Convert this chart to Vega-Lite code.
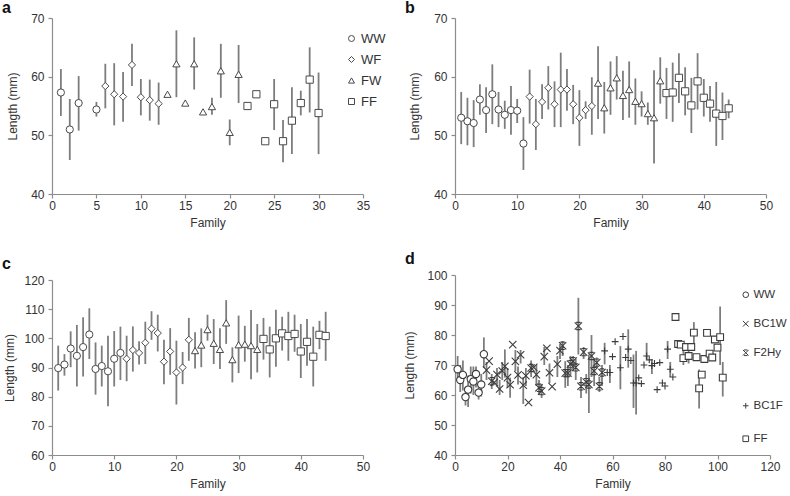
{
  "$schema": "https://vega.github.io/schema/vega-lite/v6.json",
  "padding": {"left": 2, "top": 0, "right": 0, "bottom": 2},
  "background": "white",
  "datasets": {
    "A": [
      {"f":1,"g":"WW","v":57.3,"lo":53.3,"hi":61.3},
      {"f":2,"g":"WW","v":51.0,"lo":45.8,"hi":56.2},
      {"f":3,"g":"WW","v":55.5,"lo":50.8,"hi":60.1},
      {"f":5,"g":"WW","v":54.4,"lo":53.2,"hi":55.7},
      {"f":6,"g":"WF","v":58.4,"lo":54.6,"hi":62.2},
      {"f":7,"g":"WF","v":57.0,"lo":51.7,"hi":62.3},
      {"f":8,"g":"WF","v":56.6,"lo":52.3,"hi":60.8},
      {"f":9,"g":"WF","v":62.0,"lo":58.4,"hi":65.6},
      {"f":10,"g":"WF","v":56.5,"lo":53.4,"hi":59.6},
      {"f":11,"g":"WF","v":56.0,"lo":52.5,"hi":59.5},
      {"f":12,"g":"WF","v":55.4,"lo":51.8,"hi":59.0},
      {"f":13,"g":"FW","v":57.0,"lo":57.0,"hi":57.0},
      {"f":14,"g":"FW","v":62.2,"lo":56.5,"hi":67.9},
      {"f":15,"g":"FW","v":55.5,"lo":55.5,"hi":55.5},
      {"f":16,"g":"FW","v":62.2,"lo":57.8,"hi":66.7},
      {"f":17,"g":"FW","v":54.0,"lo":54.0,"hi":54.0},
      {"f":18,"g":"FW","v":54.9,"lo":53.5,"hi":56.4},
      {"f":19,"g":"FW","v":61.0,"lo":56.4,"hi":65.6},
      {"f":20,"g":"FW","v":50.5,"lo":48.3,"hi":52.7},
      {"f":21,"g":"FW","v":60.4,"lo":55.5,"hi":65.4},
      {"f":22,"g":"FF","v":55.0,"lo":55.0,"hi":55.0},
      {"f":23,"g":"FF","v":57.0,"lo":57.0,"hi":57.0},
      {"f":24,"g":"FF","v":49.0,"lo":49.0,"hi":49.0},
      {"f":25,"g":"FF","v":55.3,"lo":50.9,"hi":59.6},
      {"f":26,"g":"FF","v":49.0,"lo":45.4,"hi":52.6},
      {"f":27,"g":"FF","v":52.5,"lo":46.8,"hi":58.2},
      {"f":28,"g":"FF","v":55.5,"lo":53.4,"hi":57.6},
      {"f":29,"g":"FF","v":59.5,"lo":53.9,"hi":65.0},
      {"f":30,"g":"FF","v":53.8,"lo":46.8,"hi":60.7}
    ],
    "B": [
      {"f":1,"g":"WW","v":53.0,"lo":48.5,"hi":57.4},
      {"f":2,"g":"WW","v":52.4,"lo":48.3,"hi":56.4},
      {"f":3,"g":"WW","v":52.1,"lo":48.0,"hi":56.0},
      {"f":4,"g":"WW","v":56.1,"lo":53.5,"hi":58.7},
      {"f":5,"g":"WW","v":54.3,"lo":50.4,"hi":58.2},
      {"f":6,"g":"WW","v":57.0,"lo":51.9,"hi":62.1},
      {"f":7,"g":"WW","v":54.4,"lo":51.4,"hi":57.4},
      {"f":8,"g":"WW","v":53.5,"lo":51.1,"hi":55.9},
      {"f":9,"g":"WW","v":54.3,"lo":50.1,"hi":58.4},
      {"f":10,"g":"WW","v":54.2,"lo":52.1,"hi":56.2},
      {"f":11,"g":"WW","v":48.6,"lo":44.1,"hi":53.1},
      {"f":12,"g":"WF","v":56.6,"lo":52.0,"hi":61.2},
      {"f":13,"g":"WF","v":51.9,"lo":47.5,"hi":56.2},
      {"f":14,"g":"WF","v":55.7,"lo":52.8,"hi":58.7},
      {"f":15,"g":"WF","v":58.1,"lo":54.4,"hi":61.8},
      {"f":16,"g":"WF","v":55.3,"lo":51.4,"hi":59.2},
      {"f":17,"g":"WF","v":57.8,"lo":51.4,"hi":64.1},
      {"f":18,"g":"WF","v":57.8,"lo":54.2,"hi":61.3},
      {"f":19,"g":"WF","v":55.3,"lo":51.9,"hi":58.6},
      {"f":20,"g":"WF","v":53.0,"lo":48.2,"hi":57.7},
      {"f":21,"g":"WF","v":54.3,"lo":52.8,"hi":55.8},
      {"f":22,"g":"WF","v":55.0,"lo":50.1,"hi":59.9},
      {"f":23,"g":"FW","v":58.9,"lo":52.8,"hi":65.2},
      {"f":24,"g":"FW","v":54.7,"lo":50.3,"hi":59.1},
      {"f":25,"g":"FW","v":58.1,"lo":53.5,"hi":62.6},
      {"f":26,"g":"FW","v":59.8,"lo":56.1,"hi":63.5},
      {"f":27,"g":"FW","v":56.8,"lo":52.6,"hi":61.0},
      {"f":28,"g":"FW","v":57.8,"lo":53.0,"hi":62.6},
      {"f":29,"g":"FW","v":55.8,"lo":51.8,"hi":59.7},
      {"f":30,"g":"FW","v":55.4,"lo":53.2,"hi":57.5},
      {"f":31,"g":"FW","v":53.7,"lo":51.8,"hi":55.6},
      {"f":32,"g":"FW","v":53.0,"lo":45.2,"hi":61.1},
      {"f":33,"g":"FW","v":59.3,"lo":55.4,"hi":63.3},
      {"f":34,"g":"FF","v":57.2,"lo":52.8,"hi":61.5},
      {"f":35,"g":"FF","v":57.3,"lo":52.3,"hi":62.4},
      {"f":36,"g":"FF","v":59.8,"lo":55.5,"hi":64.0},
      {"f":37,"g":"FF","v":57.5,"lo":53.4,"hi":61.6},
      {"f":38,"g":"FF","v":55.1,"lo":50.4,"hi":59.8},
      {"f":39,"g":"FF","v":59.2,"lo":54.4,"hi":64.0},
      {"f":40,"g":"FF","v":56.4,"lo":53.2,"hi":59.6},
      {"f":41,"g":"FF","v":55.4,"lo":52.3,"hi":58.4},
      {"f":42,"g":"FF","v":53.7,"lo":48.2,"hi":59.1},
      {"f":43,"g":"FF","v":53.3,"lo":49.2,"hi":57.3},
      {"f":44,"g":"FF","v":54.6,"lo":52.9,"hi":56.1}
    ],
    "C": [
      {"f":1,"g":"WW","v":89.8,"lo":82.1,"hi":97.5},
      {"f":2,"g":"WW","v":91.0,"lo":87.2,"hi":94.6},
      {"f":3,"g":"WW","v":96.5,"lo":90.1,"hi":102.4},
      {"f":4,"g":"WW","v":94.0,"lo":83.5,"hi":104.6},
      {"f":5,"g":"WW","v":97.0,"lo":86.9,"hi":107.2},
      {"f":6,"g":"WW","v":101.3,"lo":92.9,"hi":110.3},
      {"f":7,"g":"WW","v":89.5,"lo":80.7,"hi":98.6},
      {"f":8,"g":"WW","v":90.5,"lo":83.5,"hi":97.5},
      {"f":9,"g":"WW","v":88.7,"lo":76.7,"hi":100.9},
      {"f":10,"g":"WW","v":93.0,"lo":83.5,"hi":102.5},
      {"f":11,"g":"WW","v":95.0,"lo":85.7,"hi":104.0},
      {"f":12,"g":"WF","v":93.0,"lo":85.3,"hi":100.9},
      {"f":13,"g":"WF","v":96.0,"lo":88.6,"hi":104.1},
      {"f":14,"g":"WF","v":95.0,"lo":91.0,"hi":99.0},
      {"f":15,"g":"WF","v":98.5,"lo":91.2,"hi":105.7},
      {"f":16,"g":"WF","v":103.3,"lo":99.5,"hi":109.3},
      {"f":17,"g":"WF","v":101.8,"lo":95.5,"hi":108.1},
      {"f":18,"g":"WF","v":92.0,"lo":84.3,"hi":99.5},
      {"f":19,"g":"WF","v":95.5,"lo":87.5,"hi":103.5},
      {"f":20,"g":"WF","v":88.3,"lo":77.3,"hi":99.2},
      {"f":21,"g":"WF","v":90.0,"lo":84.3,"hi":95.3},
      {"f":22,"g":"WF","v":99.5,"lo":92.3,"hi":107.0},
      {"f":23,"g":"FW","v":95.8,"lo":89.7,"hi":102.1},
      {"f":24,"g":"FW","v":97.7,"lo":90.1,"hi":103.4},
      {"f":25,"g":"FW","v":103.0,"lo":99.2,"hi":108.1},
      {"f":26,"g":"FW","v":98.3,"lo":91.2,"hi":106.6},
      {"f":27,"g":"FW","v":96.2,"lo":89.5,"hi":103.5},
      {"f":28,"g":"FW","v":105.3,"lo":98.1,"hi":113.1},
      {"f":29,"g":"FW","v":92.7,"lo":84.9,"hi":96.9},
      {"f":30,"g":"FW","v":97.8,"lo":88.1,"hi":107.8},
      {"f":31,"g":"FW","v":98.0,"lo":92.0,"hi":104.3},
      {"f":32,"g":"FW","v":97.5,"lo":86.0,"hi":109.7},
      {"f":33,"g":"FW","v":96.2,"lo":88.3,"hi":104.9},
      {"f":34,"g":"FF","v":99.8,"lo":92.7,"hi":107.0},
      {"f":35,"g":"FF","v":96.2,"lo":86.6,"hi":104.0},
      {"f":36,"g":"FF","v":100.0,"lo":90.3,"hi":109.8},
      {"f":37,"g":"FF","v":101.7,"lo":95.8,"hi":107.4},
      {"f":38,"g":"FF","v":100.8,"lo":92.3,"hi":109.1},
      {"f":39,"g":"FF","v":101.5,"lo":95.4,"hi":108.1},
      {"f":40,"g":"FF","v":95.5,"lo":86.4,"hi":104.9},
      {"f":41,"g":"FF","v":98.8,"lo":90.6,"hi":106.6},
      {"f":42,"g":"FF","v":93.7,"lo":83.5,"hi":104.0},
      {"f":43,"g":"FF","v":101.2,"lo":96.3,"hi":106.0},
      {"f":44,"g":"FF","v":100.8,"lo":92.3,"hi":109.1}
    ],
    "D": [
      {"f":1,"g":"WW","v":68.6,"lo":64.5,"hi":73.0},
      {"f":2,"g":"WW","v":65.0,"lo":61.0,"hi":70.0},
      {"f":3,"g":"WW","v":66.7,"lo":61.5,"hi":71.5},
      {"f":4,"g":"WW","v":59.3,"lo":56.5,"hi":62.5},
      {"f":5,"g":"WW","v":61.8,"lo":56.0,"hi":66.5},
      {"f":6,"g":"WW","v":65.3,"lo":60.5,"hi":69.5},
      {"f":7,"g":"WW","v":64.5,"lo":60.0,"hi":69.5},
      {"f":8,"g":"WW","v":67.0,"lo":62.5,"hi":69.5},
      {"f":9,"g":"WW","v":60.8,"lo":58.5,"hi":64.0},
      {"f":10,"g":"WW","v":63.5,"lo":59.5,"hi":67.0},
      {"f":11,"g":"WW","v":73.6,"lo":69.0,"hi":79.2},
      {"f":12,"g":"BC1W","v":68.3,"lo":65.0,"hi":71.0},
      {"f":13,"g":"BC1W","v":71.3,"lo":71.3,"hi":71.3},
      {"f":14,"g":"F2Hy","v":64.6,"lo":62.0,"hi":67.0},
      {"f":15,"g":"BC1W","v":64.2,"lo":64.2,"hi":64.2},
      {"f":16,"g":"BC1W","v":66.8,"lo":63.5,"hi":69.0},
      {"f":17,"g":"BC1W","v":62.0,"lo":60.0,"hi":65.0},
      {"f":18,"g":"BC1W","v":68.0,"lo":65.0,"hi":71.0},
      {"f":19,"g":"BC1W","v":69.6,"lo":65.8,"hi":75.2},
      {"f":20,"g":"BC1W","v":65.8,"lo":62.5,"hi":69.0},
      {"f":21,"g":"BC1W","v":63.4,"lo":59.1,"hi":65.8},
      {"f":22,"g":"BC1W","v":76.8,"lo":76.8,"hi":76.8},
      {"f":23,"g":"BC1W","v":71.2,"lo":68.0,"hi":75.0},
      {"f":24,"g":"BC1W","v":66.7,"lo":63.5,"hi":69.5},
      {"f":25,"g":"BC1W","v":73.4,"lo":70.5,"hi":75.0},
      {"f":26,"g":"BC1W","v":63.3,"lo":57.0,"hi":66.0},
      {"f":27,"g":"BC1W","v":66.4,"lo":63.0,"hi":69.0},
      {"f":28,"g":"BC1W","v":57.5,"lo":57.5,"hi":57.5},
      {"f":29,"g":"F2Hy","v":69.0,"lo":66.0,"hi":71.5},
      {"f":30,"g":"BC1W","v":69.2,"lo":69.2,"hi":69.2},
      {"f":31,"g":"BC1W","v":66.8,"lo":63.0,"hi":70.0},
      {"f":32,"g":"F2Hy","v":62.4,"lo":60.0,"hi":65.0},
      {"f":33,"g":"F2Hy","v":61.3,"lo":59.0,"hi":63.5},
      {"f":34,"g":"BC1W","v":72.8,"lo":70.0,"hi":76.0},
      {"f":35,"g":"BC1W","v":75.6,"lo":75.6,"hi":75.6},
      {"f":36,"g":"BC1W","v":67.4,"lo":64.0,"hi":70.5},
      {"f":37,"g":"BC1W","v":62.8,"lo":62.8,"hi":62.8},
      {"f":39,"g":"BC1W","v":70.3,"lo":66.0,"hi":73.0},
      {"f":40,"g":"BC1W","v":74.8,"lo":72.0,"hi":77.0},
      {"f":41,"g":"F2Hy","v":76.4,"lo":73.0,"hi":78.0},
      {"f":42,"g":"F2Hy","v":67.3,"lo":62.4,"hi":71.3},
      {"f":43,"g":"F2Hy","v":67.3,"lo":63.0,"hi":70.0},
      {"f":44,"g":"F2Hy","v":70.3,"lo":66.5,"hi":73.0},
      {"f":45,"g":"F2Hy","v":71.3,"lo":68.0,"hi":73.0},
      {"f":46,"g":"F2Hy","v":69.2,"lo":65.0,"hi":72.0},
      {"f":47,"g":"F2Hy","v":83.0,"lo":73.5,"hi":92.4},
      {"f":48,"g":"F2Hy","v":62.9,"lo":59.0,"hi":66.0},
      {"f":49,"g":"F2Hy","v":74.3,"lo":72.0,"hi":76.0},
      {"f":50,"g":"F2Hy","v":64.3,"lo":60.5,"hi":67.0},
      {"f":51,"g":"F2Hy","v":63.5,"lo":54.0,"hi":73.5},
      {"f":52,"g":"F2Hy","v":73.0,"lo":66.0,"hi":80.0},
      {"f":53,"g":"F2Hy","v":68.0,"lo":63.0,"hi":72.0},
      {"f":54,"g":"F2Hy","v":70.8,"lo":69.0,"hi":72.5},
      {"f":55,"g":"F2Hy","v":62.9,"lo":61.0,"hi":66.0},
      {"f":56,"g":"F2Hy","v":67.5,"lo":63.0,"hi":70.0},
      {"f":57,"g":"BC1F","v":74.7,"lo":70.2,"hi":77.4},
      {"f":58,"g":"BC1F","v":67.5,"lo":67.5,"hi":67.5},
      {"f":59,"g":"BC1F","v":67.5,"lo":64.0,"hi":70.0},
      {"f":60,"g":"BC1F","v":72.8,"lo":72.8,"hi":72.8},
      {"f":61,"g":"BC1F","v":77.8,"lo":77.8,"hi":77.8},
      {"f":63,"g":"BC1F","v":69.1,"lo":61.9,"hi":76.3},
      {"f":64,"g":"BC1F","v":79.5,"lo":79.5,"hi":79.5},
      {"f":65,"g":"BC1F","v":72.5,"lo":72.5,"hi":72.5},
      {"f":66,"g":"BC1F","v":75.3,"lo":69.1,"hi":81.9},
      {"f":67,"g":"BC1F","v":71.5,"lo":71.5,"hi":71.5},
      {"f":68,"g":"BC1F","v":64.0,"lo":55.7,"hi":73.5},
      {"f":69,"g":"BC1F","v":64.0,"lo":53.5,"hi":74.7},
      {"f":70,"g":"BC1F","v":65.7,"lo":65.7,"hi":65.7},
      {"f":71,"g":"BC1F","v":63.8,"lo":63.8,"hi":63.8},
      {"f":72,"g":"BC1F","v":70.0,"lo":70.0,"hi":70.0},
      {"f":73,"g":"BC1F","v":73.0,"lo":71.9,"hi":77.4},
      {"f":74,"g":"BC1F","v":71.7,"lo":71.7,"hi":71.7},
      {"f":75,"g":"BC1F","v":69.8,"lo":67.0,"hi":72.0},
      {"f":76,"g":"BC1F","v":70.5,"lo":70.5,"hi":70.5},
      {"f":77,"g":"BC1F","v":61.8,"lo":61.8,"hi":61.8},
      {"f":78,"g":"BC1F","v":70.8,"lo":70.8,"hi":70.8},
      {"f":79,"g":"BC1F","v":64.0,"lo":64.0,"hi":64.0},
      {"f":80,"g":"BC1F","v":63.0,"lo":63.0,"hi":63.0},
      {"f":81,"g":"BC1F","v":75.3,"lo":72.0,"hi":78.0},
      {"f":82,"g":"BC1F","v":68.6,"lo":66.0,"hi":71.0},
      {"f":83,"g":"BC1F","v":66.0,"lo":66.0,"hi":66.0},
      {"f":84,"g":"FF","v":86.0,"lo":86.0,"hi":86.0},
      {"f":85,"g":"FF","v":77.0,"lo":77.0,"hi":77.0},
      {"f":86,"g":"FF","v":76.8,"lo":76.8,"hi":76.8},
      {"f":87,"g":"FF","v":72.3,"lo":70.0,"hi":75.0},
      {"f":88,"g":"FF","v":76.0,"lo":76.0,"hi":76.0},
      {"f":89,"g":"FF","v":73.0,"lo":70.5,"hi":75.5},
      {"f":90,"g":"FF","v":76.0,"lo":76.0,"hi":76.0},
      {"f":91,"g":"FF","v":80.8,"lo":77.0,"hi":84.3},
      {"f":92,"g":"FF","v":72.6,"lo":72.6,"hi":72.6},
      {"f":93,"g":"FF","v":62.2,"lo":55.5,"hi":68.5},
      {"f":94,"g":"FF","v":66.8,"lo":66.8,"hi":66.8},
      {"f":95,"g":"FF","v":72.0,"lo":72.0,"hi":72.0},
      {"f":96,"g":"FF","v":80.7,"lo":80.7,"hi":80.7},
      {"f":97,"g":"FF","v":73.8,"lo":73.8,"hi":73.8},
      {"f":98,"g":"FF","v":72.5,"lo":72.5,"hi":72.5},
      {"f":99,"g":"FF","v":78.5,"lo":78.5,"hi":78.5},
      {"f":100,"g":"FF","v":75.8,"lo":75.8,"hi":75.8},
      {"f":101,"g":"FF","v":79.3,"lo":70.0,"hi":89.5},
      {"f":102,"g":"FF","v":65.8,"lo":59.5,"hi":71.0}
    ]
  },
  "columns": 2,
  "spacing": {"row": 81, "column": 92},
  "bounds": "flush",
  "concat": [
    {
      "width": 311, "height": 176,
      "title": {"text": "a", "anchor": "start", "frame": "group", "dx": -50, "offset": -4, "fontSize": 16, "fontWeight": "bold", "color": "#111"},
      "data": {"name": "A"},
      "encoding": {"x": {"field": "f", "type": "quantitative", "scale": {"domain": [0, 35], "nice": false}, "axis": {"values": [0,5,10,15,20,25,30,35], "title": "Family"}}},
      "layer": [
        {"mark": {"type": "rule", "color": "#7d7d7d", "strokeWidth": 1.8},
         "encoding": {"y": {"field": "lo", "type": "quantitative", "scale": {"domain": [40, 70], "nice": false}, "axis": {"values": [40,50,60,70], "title": "Length (mm)", "titlePadding": 11}}, "y2": {"field": "hi"}}},
        {"mark": {"type": "point", "filled": true, "fill": "white", "stroke": "#4a4a4a", "strokeWidth": 1, "opacity": 1, "size": 52},
         "encoding": {"y": {"field": "v", "type": "quantitative", "axis": {"values": [40,50,60,70], "title": "Length (mm)", "titlePadding": 11}},
           "shape": {"field": "g", "type": "nominal", "scale": {"domain": ["WW","WF","FW","FF"], "range": ["circle","diamond","triangle-up","square"]},
             "legend": {"orient": "none", "legendX": 293, "legendY": 14, "title": null, "rowPadding": 7, "symbolSize": 36}}}}
      ]
    },
    {
      "width": 311, "height": 176,
      "title": {"text": "b", "anchor": "start", "frame": "group", "dx": -50, "offset": -4, "fontSize": 16, "fontWeight": "bold", "color": "#111"},
      "data": {"name": "B"},
      "encoding": {"x": {"field": "f", "type": "quantitative", "scale": {"domain": [0, 50], "nice": false}, "axis": {"values": [0,10,20,30,40,50], "title": "Family"}}},
      "layer": [
        {"mark": {"type": "rule", "color": "#7d7d7d", "strokeWidth": 1.8},
         "encoding": {"y": {"field": "lo", "type": "quantitative", "scale": {"domain": [40, 70], "nice": false}, "axis": {"values": [40,50,60,70], "title": "Length (mm)", "titlePadding": 12}}, "y2": {"field": "hi"}}},
        {"mark": {"type": "point", "filled": true, "fill": "white", "stroke": "#4a4a4a", "strokeWidth": 1, "opacity": 1, "size": 52},
         "encoding": {"y": {"field": "v", "type": "quantitative", "axis": {"values": [40,50,60,70], "title": "Length (mm)", "titlePadding": 12}},
           "shape": {"field": "g", "type": "nominal", "scale": {"domain": ["WW","WF","FW","FF"], "range": ["circle","diamond","triangle-up","square"]},
             "legend": {"orient": "none", "legendX": 295, "legendY": 14, "title": null, "rowPadding": 7, "symbolSize": 36}}}}
      ]
    },
    {
      "width": 311, "height": 180,
      "title": {"text": "c", "anchor": "start", "frame": "group", "dx": -50, "offset": 2, "fontSize": 16, "fontWeight": "bold", "color": "#111"},
      "data": {"name": "C"},
      "encoding": {"x": {"field": "f", "type": "quantitative", "scale": {"domain": [0, 50], "nice": false}, "axis": {"values": [0,10,20,30,40,50], "title": "Family"}}},
      "layer": [
        {"mark": {"type": "rule", "color": "#7d7d7d", "strokeWidth": 1.8},
         "encoding": {"y": {"field": "lo", "type": "quantitative", "scale": {"domain": [60, 120], "nice": false, "rangeMax": 5}, "axis": {"values": [60,70,80,90,100,110,120], "title": "Length (mm)", "titlePadding": 7}}, "y2": {"field": "hi"}}},
        {"mark": {"type": "point", "filled": true, "fill": "white", "stroke": "#4a4a4a", "strokeWidth": 1, "opacity": 1, "size": 52},
         "encoding": {"y": {"field": "v", "type": "quantitative", "axis": {"values": [60,70,80,90,100,110,120], "title": "Length (mm)", "titlePadding": 7}},
           "shape": {"field": "g", "type": "nominal", "scale": {"domain": ["WW","WF","FW","FF"], "range": ["circle","diamond","triangle-up","square"]},
             "legend": {"orient": "none", "legendX": 293, "legendY": 2, "title": null, "rowPadding": 7, "symbolSize": 36}}}}
      ]
    },
    {
      "width": 315, "height": 180,
      "title": {"text": "d", "anchor": "start", "frame": "group", "dx": -50, "offset": 2, "fontSize": 16, "fontWeight": "bold", "color": "#111"},
      "data": {"name": "D"},
      "encoding": {"x": {"field": "f", "type": "quantitative", "scale": {"domain": [0, 120], "nice": false}, "axis": {"values": [0,20,40,60,80,100,120], "title": "Family"}}},
      "layer": [
        {"mark": {"type": "rule", "color": "#7d7d7d", "strokeWidth": 1.8},
         "encoding": {"y": {"field": "lo", "type": "quantitative", "scale": {"domain": [40, 100], "nice": false}, "axis": {"values": [40,50,60,70,80,90,100], "title": "Length (mm)", "titlePadding": 10}}, "y2": {"field": "hi"}}},
        {"transform": [{"filter": {"field": "g", "oneOf": ["WW","BC1W","F2Hy"]}}],
         "mark": {"type": "point", "filled": true, "fill": "white", "stroke": "#3c3c3c", "strokeWidth": 1.1, "opacity": 1, "size": 54},
         "encoding": {"y": {"field": "v", "type": "quantitative", "axis": {"values": [40,50,60,70,80,90,100], "title": "Length (mm)", "titlePadding": 10}},
           "shape": {"field": "g", "type": "nominal", "scale": {"domain": ["WW","BC1W","F2Hy"], "range": ["circle","M-1,-1L1,1M-1,1L1,-1","M-1,-1L1,1M-1,1L1,-1M-0.6,-1L0.6,-1M-0.6,1L0.6,1"]},
             "legend": {"orient": "none", "legendX": 285, "legendY": 14, "title": null, "rowPadding": 16, "symbolSize": 32, "labelFontSize": 11.5, "labelOffset": 2}}}},
        {"transform": [{"filter": {"field": "g", "oneOf": ["BC1F","FF"]}}],
         "mark": {"type": "point", "filled": true, "fill": "white", "stroke": "#3c3c3c", "strokeWidth": 1.1, "opacity": 1, "size": 46},
         "encoding": {"y": {"field": "v", "type": "quantitative", "axis": {"values": [40,50,60,70,80,90,100], "title": "Length (mm)", "titlePadding": 10}},
           "shape": {"field": "g", "type": "nominal", "scale": {"domain": ["BC1F","FF"], "range": ["M-1,0L1,0M0,-1L0,1","square"]},
             "legend": {"orient": "none", "legendX": 285, "legendY": 125, "title": null, "rowPadding": 20, "symbolSize": 32, "labelFontSize": 11.5, "labelOffset": 2}}}}
      ],
      "resolve": {"scale": {"shape": "independent"}, "legend": {"shape": "independent"}}
    }
  ],
  "config": {
    "view": {"stroke": null},
    "font": "Liberation Sans",
    "axis": {"grid": false, "domainColor": "#8c8c8c", "tickColor": "#8c8c8c", "domainWidth": 1.2, "tickWidth": 1.2, "tickSize": 4,
      "labelFont": "Liberation Sans", "labelFontSize": 12, "labelColor": "#333", "labelFlush": false, "labelOverlap": false,
      "titleFont": "Liberation Sans", "titleFontSize": 12, "titleFontWeight": "normal", "titleColor": "#333"},
    "axisX": {"labelPadding": 2, "titlePadding": 6},
    "axisY": {"labelPadding": 4},
    "legend": {"labelFont": "Liberation Sans", "labelFontSize": 13, "labelColor": "#333", "labelOffset": 3, "symbolStrokeWidth": 1, "padding": 0},
    "title": {"font": "Liberation Sans"}
  }
}
